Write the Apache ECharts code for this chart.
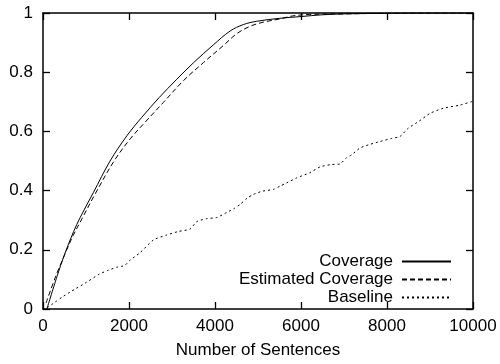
<!DOCTYPE html>
<html>
<head>
<meta charset="utf-8">
<script src="https://cdn.jsdelivr.net/npm/echarts@6/dist/echarts.min.js"></script>
<style>
  html, body { margin: 0; padding: 0; background: #fff; }
  #chart { width: 500px; height: 364px; }
</style>
</head>
<body>
<div id="chart"></div>
<script>
// Coverage curves: [number of sentences, fraction covered]
const coverage = [
  [90, 0], [326, 0.11], [500, 0.184], [713, 0.262], [868, 0.31], [1170, 0.393],
  [1560, 0.5], [1950, 0.585], [2300, 0.648], [2700, 0.714], [3110, 0.776],
  [3500, 0.832], [3960, 0.892], [4350, 0.939], [4660, 0.961], [4970, 0.972],
  [5500, 0.982], [6000, 0.988], [6500, 0.994], [7000, 0.997], [8000, 0.999],
  [9000, 1.0], [10000, 1.0]
];
const estimatedCoverage = [
  [70, 0.02], [300, 0.112], [500, 0.182], [700, 0.248], [907, 0.305], [1210, 0.388],
  [1640, 0.497], [2030, 0.575], [2400, 0.635], [2800, 0.698], [3263, 0.771],
  [3728, 0.832], [4194, 0.89], [4504, 0.93], [4814, 0.955], [5123, 0.969],
  [5512, 0.98], [5800, 0.99], [6200, 0.995], [7000, 0.997], [8000, 0.999],
  [9000, 1.0], [10000, 1.0]
];
const baseline = [
  [100, 0.005], [280, 0.023], [442, 0.04], [628, 0.057], [752, 0.068], [977, 0.087],
  [1300, 0.117], [1500, 0.13], [1713, 0.141], [1900, 0.147], [2023, 0.165],
  [2256, 0.19], [2566, 0.233], [2876, 0.25], [3150, 0.262], [3419, 0.27],
  [3574, 0.295], [3800, 0.305], [4039, 0.309], [4272, 0.326], [4450, 0.34],
  [4581, 0.353], [4750, 0.375], [4891, 0.387], [5100, 0.398], [5356, 0.404],
  [5512, 0.415], [5667, 0.426], [5900, 0.443], [6200, 0.46], [6442, 0.48],
  [6700, 0.488], [6907, 0.49], [7050, 0.51], [7179, 0.521], [7372, 0.544],
  [7600, 0.556], [7837, 0.566], [8100, 0.576], [8302, 0.583], [8496, 0.611],
  [8750, 0.635], [9000, 0.661], [9310, 0.678], [9698, 0.689], [10000, 0.702]
];
const seriesNames = ['Coverage', 'Estimated Coverage', 'Baseline'];
const xTitle = 'Number of Sentences';

const FONT = 'Liberation Sans, Arial, Helvetica, sans-serif';
const frameLine = { show: true, onZero: false, lineStyle: { color: '#000', width: 1.5 } };
const innerTick = { show: true, inside: true, length: 7, lineStyle: { color: '#000', width: 1.3 } };

function lineSeries(name, data, dash, smooth) {
  return {
    name: name,
    type: 'line',
    data: data,
    xAxisIndex: 0,
    yAxisIndex: 0,
    symbol: 'none',
    showSymbol: false,
    smooth: smooth,
    animation: false,
    lineStyle: { color: '#000', width: 1, type: dash },
    itemStyle: { color: '#000' }
  };
}

const chart = echarts.init(document.getElementById('chart'), null, { renderer: 'canvas' });
chart.setOption({
  backgroundColor: '#fff',
  animation: false,
  textStyle: { fontFamily: FONT },
  grid: { left: 43, right: 27, top: 13, bottom: 52 },
  legend: {
    orient: 'vertical',
    align: 'right',
    right: 48,
    top: 253,
    padding: 0,
    itemWidth: 49,
    itemHeight: 14,
    itemGap: 1,
    data: seriesNames,
    // legend keys show only the line sample, no point marker
    itemStyle: { color: 'transparent', borderColor: 'transparent', borderWidth: 0 },
    textStyle: { fontFamily: FONT, fontSize: 17, color: '#000', padding: [0, 4, 0, 0], lineHeight: 17 }
  },
  xAxis: [
    {
      type: 'value', position: 'bottom', min: 0, max: 10000, interval: 2000,
      axisLine: frameLine, axisTick: innerTick, splitLine: { show: false },
      axisLabel: { fontFamily: FONT, fontSize: 17, color: '#000', margin: 9, formatter: v => String(v) },
      name: xTitle, nameLocation: 'middle', nameGap: 33,
      nameTextStyle: { fontFamily: FONT, fontSize: 17, color: '#000' }
    },
    {
      type: 'value', position: 'top', min: 0, max: 10000, interval: 2000,
      axisLine: frameLine, axisTick: innerTick, splitLine: { show: false },
      axisLabel: { show: false }
    }
  ],
  yAxis: [
    {
      type: 'value', position: 'left', min: 0, max: 1, interval: 0.2,
      axisLine: frameLine, axisTick: innerTick, splitLine: { show: false },
      axisLabel: { fontFamily: FONT, fontSize: 17, color: '#000', margin: 10 }
    },
    {
      type: 'value', position: 'right', min: 0, max: 1, interval: 0.2,
      axisLine: frameLine, axisTick: innerTick, splitLine: { show: false },
      axisLabel: { show: false }
    }
  ],
  series: [
    lineSeries(seriesNames[0], coverage, 'solid', 0.35),
    lineSeries(seriesNames[1], estimatedCoverage, [5, 3], 0.35),
    lineSeries(seriesNames[2], baseline, [2, 3], 0.2)
  ]
});
</script>
</body>
</html>
